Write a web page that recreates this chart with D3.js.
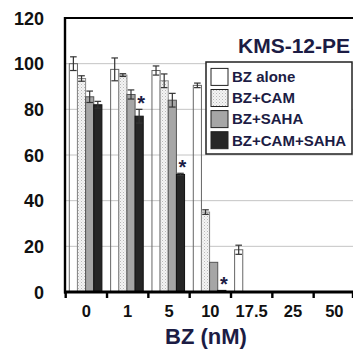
<!DOCTYPE html>
<html>
<head>
<meta charset="utf-8">
<script src="https://cdn.jsdelivr.net/npm/d3@7"></script>
<style>
  html, body { margin: 0; padding: 0; background: #fff; }
  svg { display: block; font-family: "Liberation Sans", Arial, sans-serif; }
</style>
</head>
<body>
<svg id="chart" width="353" height="350"></svg>
<script>
// ---- data ----
const categories = ["0", "1", "5", "10", "17.5", "25", "50"];
const seriesNames = ["BZ alone", "BZ+CAM", "BZ+SAHA", "BZ+CAM+SAHA"];
const bzAlone      = [100, 97.5, 97, 90.5, 18.5, 0, 0];
const bzAloneErr   = [3, 5, 2, 1, 2, 0, 0];
const bzCam        = [93.5, 95, 92.5, 35, 0, 0, 0];
const bzCamErr     = [1.2, 0.6, 3, 1, 0, 0, 0];
const bzSaha       = [85.5, 86.5, 84, 13, 0, 0, 0];
const bzSahaErr    = [2.5, 2, 3, 0, 0, 0, 0];
const bzCamSaha    = [82, 77, 51.5, 0.7, 0, 0, 0];
const bzCamSahaErr = [1.5, 3, 0.5, 0, 0, 0, 0];
const starGroups   = ["1", "5", "10"]; // significance marks on BZ+CAM+SAHA
const yTicks = [0, 20, 40, 60, 80, 100, 120];
const chartTitle = "KMS-12-PE";
const xTitle = "BZ (nM)";

const seriesValues = [bzAlone, bzCam, bzSaha, bzCamSaha];
const seriesErrors = [bzAloneErr, bzCamErr, bzSahaErr, bzCamSahaErr];

(function () {
const svg = d3.select("#chart");
const navy = "#1c1c44";

// pattern for BZ+CAM (stippled)
const defs = svg.append("defs");
const pat = defs.append("pattern").attr("id", "dots")
  .attr("width", 3).attr("height", 3).attr("patternUnits", "userSpaceOnUse");
pat.append("rect").attr("width", 3).attr("height", 3).attr("fill", "#f4f4f4");
pat.append("rect").attr("x", 0).attr("y", 0).attr("width", 1).attr("height", 1).attr("fill", "#b8b8b8");
pat.append("rect").attr("x", 1.5).attr("y", 1.5).attr("width", 1).attr("height", 1).attr("fill", "#cfcfcf");

const fills = ["none", "url(#dots)", "#a6a6a6", "#262626"];
const legendFills = ["#fff", "url(#dots)", "#a6a6a6", "#262626"];
const strokes = ["#666", "#888", "#555", "#111"];

// ---- scales ----
const pLeft = 65.7, pRight = 355, pTop = 18, pBottom = 292;
const x = d3.scaleBand().domain(categories).range([pLeft, pRight]).padding(0);
const xs = d3.scaleBand().domain(seriesNames).range([3.6, 36.2]).padding(0);
const y = d3.scaleLinear().domain([0, 120]).range([pBottom, pTop]);

// gridlines
svg.append("g").selectAll("line").data(yTicks.filter(t => t > 0 && t < 120)).join("line")
  .attr("x1", pLeft).attr("x2", 353)
  .attr("y1", d => y(d)).attr("y2", d => y(d))
  .attr("stroke", "#c4c4c4").attr("stroke-width", 1);

// bars
const barData = [];
seriesNames.forEach((s, si) => {
  categories.forEach((c, ci) => {
    barData.push({ s, si, c, v: seriesValues[si][ci], e: seriesErrors[si][ci] });
  });
});

svg.append("g").selectAll("rect").data(barData.filter(d => d.v > 0)).join("rect")
  .attr("x", d => x(d.c) + xs(d.s))
  .attr("width", xs.bandwidth())
  .attr("y", d => y(d.v))
  .attr("height", d => y(0) - y(d.v))
  .attr("fill", d => fills[d.si])
  .attr("stroke", d => strokes[d.si])
  .attr("stroke-width", 1);

// error bars
const eg = svg.append("g").attr("stroke", "#333").attr("stroke-width", 1.2);
barData.filter(d => d.e > 0).forEach(d => {
  const cx = x(d.c) + xs(d.s) + xs.bandwidth() / 2;
  const capW = 3.3;
  eg.append("line").attr("x1", cx).attr("x2", cx).attr("y1", y(d.v + d.e)).attr("y2", y(d.v - d.e));
  eg.append("line").attr("x1", cx - capW).attr("x2", cx + capW).attr("y1", y(d.v + d.e)).attr("y2", y(d.v + d.e));
  eg.append("line").attr("x1", cx - capW).attr("x2", cx + capW).attr("y1", y(d.v - d.e)).attr("y2", y(d.v - d.e));
});

// stars
svg.append("g").selectAll("text").data(starGroups).join("text")
  .attr("x", c => x(c) + xs("BZ+CAM+SAHA") + xs.bandwidth() / 2 + 2)
  .attr("y", c => {
    const i = categories.indexOf(c);
    return y(bzCamSaha[i] + bzCamSahaErr[i]) + 1;
  })
  .attr("text-anchor", "middle")
  .attr("font-size", 20).attr("font-weight", "bold").attr("fill", navy)
  .text("*");

// axes lines
svg.append("line").attr("x1", 65).attr("x2", 353).attr("y1", pTop).attr("y2", pTop)
  .attr("stroke", "#000").attr("stroke-width", 2);
svg.append("line").attr("x1", 65).attr("x2", 65).attr("y1", pTop - 1).attr("y2", pBottom + 1.5)
  .attr("stroke", "#000").attr("stroke-width", 2.4);
svg.append("line").attr("x1", 64).attr("x2", 353).attr("y1", pBottom).attr("y2", pBottom)
  .attr("stroke", "#000").attr("stroke-width", 3);

// x ticks at group boundaries
const tickPos = categories.map(c => x(c)).concat([x(categories[categories.length - 1]) + x.bandwidth() - 2]);
svg.append("g").selectAll("line").data(tickPos).join("line")
  .attr("x1", d => d).attr("x2", d => d)
  .attr("y1", pBottom).attr("y2", pBottom + 6)
  .attr("stroke", "#000").attr("stroke-width", 2.4);

// x tick labels
svg.append("g").selectAll("text").data(categories).join("text")
  .attr("x", c => x(c) + x.bandwidth() / 2)
  .attr("y", 316.7)
  .attr("text-anchor", "middle")
  .attr("font-size", 16.5).attr("font-weight", "bold").attr("fill", "#111")
  .text(c => c);

// y tick labels
svg.append("g").selectAll("text").data(yTicks).join("text")
  .attr("x", 44)
  .attr("y", d => y(d) + 6.5)
  .attr("text-anchor", "end")
  .attr("font-size", 18).attr("font-weight", "bold").attr("fill", "#111")
  .text(d => d);

// x title
svg.append("text").attr("x", 206).attr("y", 344)
  .attr("text-anchor", "middle").attr("font-size", 22).attr("font-weight", "bold")
  .attr("fill", navy).text(xTitle);

// chart title
svg.append("text").attr("x", 350).attr("y", 53)
  .attr("text-anchor", "end").attr("font-size", 21).attr("font-weight", "bold")
  .attr("fill", navy).text(chartTitle);

// legend
const lg = svg.append("g");
lg.append("rect").attr("x", 206).attr("y", 62).attr("width", 146).attr("height", 92)
  .attr("fill", "#fff").attr("stroke", "#222").attr("stroke-width", 1.5);
const rowY = d3.scalePoint().domain(seriesNames).range([76.7, 140]);
seriesNames.forEach((s, i) => {
  lg.append("rect").attr("x", 211).attr("y", rowY(s) - 8.3).attr("width", 17).attr("height", 17)
    .attr("fill", legendFills[i]).attr("stroke", "#222").attr("stroke-width", 1);
  lg.append("text").attr("x", 232).attr("y", rowY(s) + 5.5)
    .attr("font-size", 15).attr("font-weight", "bold").attr("fill", navy).text(s);
});
})();
</script>
</body>
</html>
